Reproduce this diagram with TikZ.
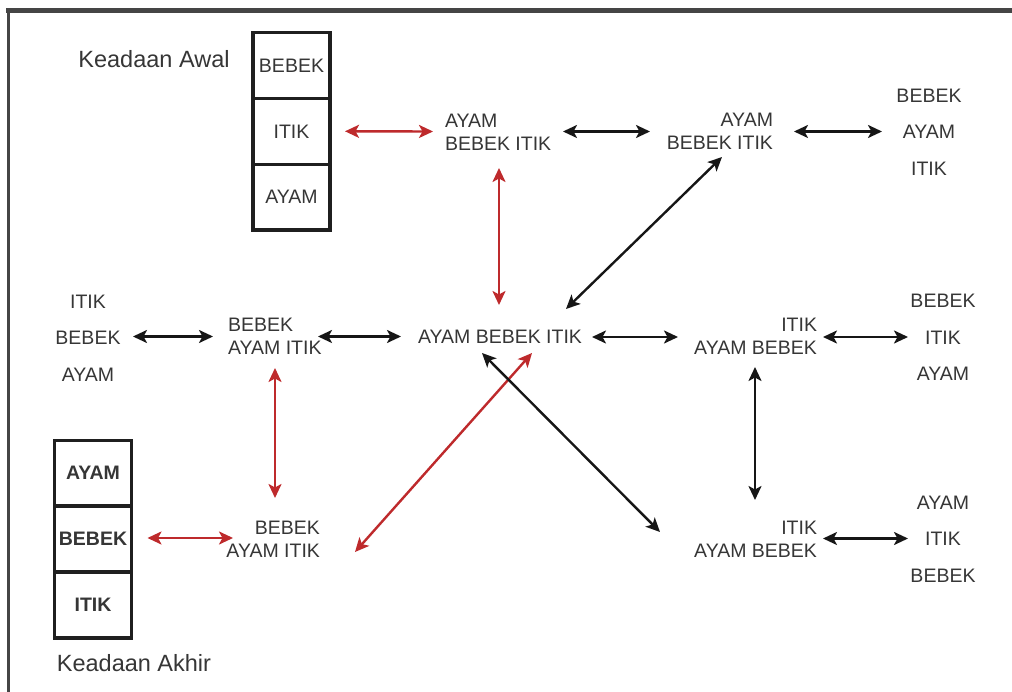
\documentclass[tikz,border=0pt]{standalone}
\usepackage{fontspec}
\setmainfont{Liberation Sans}
\usetikzlibrary{arrows.meta}
\definecolor{inkgray}{HTML}{363636}
\definecolor{linkred}{HTML}{BE2A2C}
\definecolor{linkblack}{HTML}{161616}
\definecolor{framegray}{HTML}{454545}

\begin{document}
\begin{tikzpicture}[x=1pt,y=-1pt,
  every node/.style={inner sep=0pt, outer sep=0pt},
  state/.style={text=inkgray, font=\fontsize{19.5}{23}\selectfont},
  pile/.style={text=inkgray, font=\fontsize{19.5}{36.5}\selectfont, align=center},
  cell/.style={draw=black!88, line width=3.2pt, minimum width=77pt, minimum height=65.8pt,
               text=inkgray, font=\fontsize{19.5}{23}\selectfont},
  caption/.style={text=inkgray, font=\fontsize{23.5}{28}\selectfont},
  tip/.style={Stealth[length=14pt,width=13pt,inset=3.5pt]},
  link/.style={line width=2.4pt, {Stealth[length=14pt,width=13pt,inset=3.5pt]}-{Stealth[length=14pt,width=13pt,inset=3.5pt]}},
  redlink/.style={link, draw=linkred},
  blacklink/.style={link, draw=linkblack},
]
\useasboundingbox (0,0) rectangle (1012,692);
\fill[white] (0,0) rectangle (1012,692);

% frame: top and left edges
\draw[framegray, line width=4.5pt] (6,10.5) -- (1012,10.5);
\draw[framegray, line width=3.5pt] (8.5,9) -- (8.5,692);

% starting stack
\node[caption] (capA) at (154,59) {Keadaan Awal};
\node[cell] (b1a) at (291.5,65.5) {BEBEK};
\node[cell] (b1b) at (291.5,131.3) {ITIK};
\node[cell] (b1c) at (291.5,197.1) {AYAM};

% final stack
\node[caption] (capB) at (134,663) {Keadaan Akhir};
\node[cell, font=\fontsize{19.5}{23}\selectfont\bfseries] (b2a) at (93,473) {AYAM};
\node[cell, font=\fontsize{19.5}{23}\selectfont\bfseries] (b2b) at (93,539) {BEBEK};
\node[cell, font=\fontsize{19.5}{23}\selectfont\bfseries] (b2c) at (93,605) {ITIK};

% states, first row
\node[state, align=left, anchor=west] (n1) at (445,132.5) {AYAM\\BEBEK ITIK};
\node[state, align=right, anchor=east] (n2) at (773,131) {AYAM\\BEBEK ITIK};
\node[pile] (n3) at (929,132) {BEBEK\\AYAM\\ITIK};

% states, middle row
\node[pile] (n4) at (88,338) {ITIK\\BEBEK\\AYAM};
\node[state, align=left, anchor=west] (n5) at (228,336.5) {BEBEK\\AYAM ITIK};
\node[state] (c) at (500,337) {AYAM BEBEK ITIK};
\node[state, align=right, anchor=east] (n6) at (817,336.5) {ITIK\\AYAM BEBEK};
\node[pile] (n7) at (943,337.5) {BEBEK\\ITIK\\AYAM};

% states, bottom row
\node[state, align=right, anchor=east] (n8) at (320,539) {BEBEK\\AYAM ITIK};
\node[state, align=right, anchor=east] (n9) at (817,539.5) {ITIK\\AYAM BEBEK};
\node[pile] (n10) at (943,539) {AYAM\\ITIK\\BEBEK};

% solution path
\draw[redlink] ([shift={(15,0)}]b1b.east) -- ([shift={(-12,-1)}]n1.west);
\draw[redlink] ([shift={(54,35.5)}]n1.west) -- ([shift={(-1,-32)}]c.center);
\draw[redlink] ([shift={(32,16)}]c.center) -- ([shift={(35,13)}]n8.east);
\draw[redlink] ([shift={(47,31.5)}]n5.west) -- ([shift={(-45,-41)}]n8.east);
\draw[redlink] ([shift={(16,-1)}]b2b.east) -- ([shift={(-87,-1)}]n8.east);

% other moves
\draw[blacklink] ([shift={(118,-1)}]n1.west) -- ([shift={(-123,0.5)}]n2.east);
\draw[blacklink] ([shift={(21,0.5)}]n2.east) -- ([shift={(-47,-0.5)}]n3.center);
\draw[blacklink] ([shift={(-51,26)}]n2.east) -- ([shift={(66,-28)}]c.center);
\draw[blacklink] ([shift={(45,-1.5)}]n4.center) -- ([shift={(-15,0)}]n5.west);
\draw[blacklink] ([shift={(90,0)}]n5.west) -- ([shift={(-99,-0.5)}]c.center);
\draw[blacklink] ([shift={(92,0)}]c.center) -- ([shift={(-139,0.5)}]n6.east);
\draw[blacklink] ([shift={(6,0.5)}]n6.east) -- ([shift={(-35,-0.5)}]n7.center);
\draw[blacklink] ([shift={(-62,30.5)}]n6.east) -- ([shift={(-62,-39.5)}]n9.east);
\draw[blacklink] ([shift={(-18,16)}]c.center) -- ([shift={(-157,-7.5)}]n9.east);
\draw[blacklink] ([shift={(6,-1)}]n9.east) -- ([shift={(-35,-0.5)}]n10.center);
\end{tikzpicture}
\end{document}
